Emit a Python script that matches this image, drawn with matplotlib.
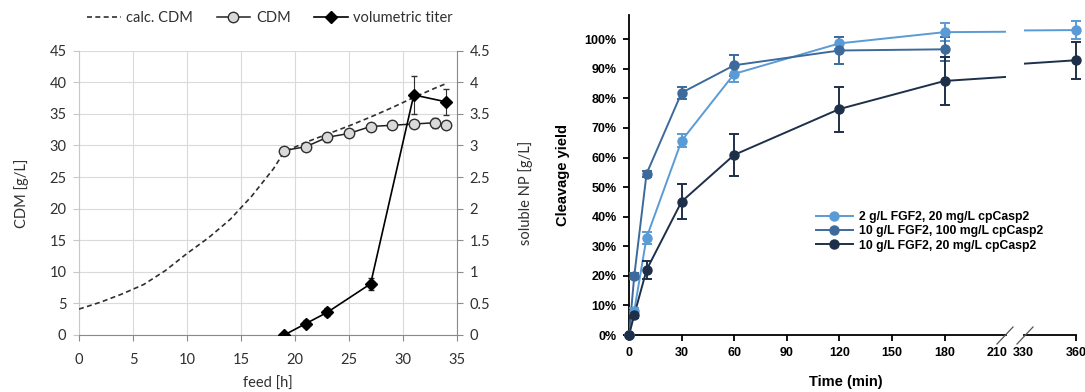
import matplotlib
matplotlib.use('Agg')
import matplotlib.pyplot as plt
import numpy as np
from matplotlib.lines import Line2D
from matplotlib.ticker import FixedLocator, FixedFormatter

# ---------------- left panel data ----------------
calc_t = [0, 2, 4, 6, 8, 10, 12, 14, 16, 18, 19, 21, 23, 25, 27, 29, 31, 33, 34]
calc_cdm = [4.1, 5.2, 6.5, 8.0, 10.2, 12.9, 15.4, 18.3, 22.0, 26.3, 29.0, 30.5,
            31.8, 33.1, 34.5, 36.0, 37.6, 39.1, 39.8]
cdm_t = [19, 21, 23, 25, 27, 29, 31, 33, 34]
cdm = [29.2, 29.8, 31.3, 31.9, 33.0, 33.2, 33.4, 33.6, 33.2]
cdm_err = [0.3, 0.3, 0.7, 0.3, 0.3, 0.3, 0.3, 0.8, 0.4]
titer_t = [19, 21, 23, 27, 31, 34]
titer = [0.0, 0.18, 0.36, 0.81, 3.80, 3.69]
titer_err = [0.02, 0.05, 0.06, 0.10, 0.30, 0.21]
left_yticks = [0, 5, 10, 15, 20, 25, 30, 35, 40, 45]
right_yticks = [0, 0.5, 1, 1.5, 2, 2.5, 3, 3.5, 4, 4.5]
right_ylabels = ['0', '0.5', '1', '1.5', '2', '2.5', '3', '3.5', '4', '4.5']
feed_ticks = [0, 5, 10, 15, 20, 25, 30, 35]

# ---------------- right panel data ----------------
time_min = [0, 3, 10, 30, 60, 120, 180, 360]
yield_a = [0, 8.2, 32.9, 65.7, 88.3, 98.6, 102.4, 103.1]     # 2 g/L FGF2, 20 mg/L
err_a = [0, 1.0, 2.0, 2.2, 2.7, 2.0, 3.0, 3.1]
time_b = [0, 3, 10, 30, 60, 120, 180]
yield_b = [0, 20.0, 54.5, 81.9, 91.2, 96.2, 96.6]             # 10 g/L FGF2, 100 mg/L
err_b = [0, 1.0, 1.0, 2.0, 3.5, 4.5, 4.0]
yield_c = [0, 6.8, 22.0, 45.1, 60.9, 76.4, 85.9, 92.9]       # 10 g/L FGF2, 20 mg/L
err_c = [0, 1.0, 3.0, 6.0, 7.0, 7.6, 8.2, 6.2]
labels = ['2 g/L FGF2, 20 mg/L cpCasp2',
          '10 g/L FGF2, 100 mg/L cpCasp2',
          '10 g/L FGF2, 20 mg/L cpCasp2']
colors = ['#5B9BD5', '#3D6A9B', '#1E3049']
time_ticks_a = [0, 30, 60, 90, 120, 150, 180, 210]
time_ticks_b = [330, 360]
yield_ticks = [0, 10, 20, 30, 40, 50, 60, 70, 80, 90, 100]

W, H = 1085, 392
fig = plt.figure(figsize=(W / 100, H / 100), dpi=100)

# =============== LEFT PANEL ===============
lf = 'Lato'
tc = '#303030'
ax = fig.add_axes([79 / W, 57 / H, 378 / W, 284.3 / H])
ax.set_xlim(0, 35)
ax.set_ylim(0, 45)
ax.set_xticks(feed_ticks)
ax.set_yticks(left_yticks)
ax.grid(True, color='#DADADA', lw=0.8)
ax.set_axisbelow(True)
for s in ['top', 'right']:
    ax.spines[s].set_visible(False)
ax.spines['left'].set_color('#C8C8C8')
ax.spines['bottom'].set_color('#8A8A8A')
ax.tick_params(axis='x', direction='out', length=4, color='#8A8A8A',
               labelsize=10.5, labelcolor=tc, pad=9)
ax.tick_params(axis='y', direction='out', length=4, color='#C8C8C8',
               labelsize=10.5, labelcolor=tc, pad=5)
for lab in ax.get_xticklabels() + ax.get_yticklabels():
    lab.set_family(lf)

ax.plot(calc_t, calc_cdm, ls=(0, (3, 2)), color='#303030', lw=1.2, zorder=3)
ax.errorbar(cdm_t, cdm, yerr=cdm_err, color='#202020', lw=1.1, ecolor='#202020',
            elinewidth=0.8, capsize=2, marker='o', ms=7.5, mfc='#D9D9D9',
            mec='#303030', mew=1.0, zorder=4)

ax2 = ax.twinx()
ax2.set_ylim(0, 4.5)
ax2.yaxis.set_major_locator(FixedLocator(right_yticks))
ax2.yaxis.set_major_formatter(FixedFormatter(right_ylabels))
for s in ['top', 'left', 'bottom']:
    ax2.spines[s].set_visible(False)
ax2.spines['right'].set_color('#8A8A8A')
ax2.tick_params(axis='y', direction='out', length=4, color='#8A8A8A',
                labelsize=10.5, labelcolor=tc, pad=5)
for lab in ax2.get_yticklabels():
    lab.set_family(lf)
ax2.errorbar(titer_t, titer, yerr=titer_err, color='black', lw=1.2, ecolor='#303030',
             elinewidth=0.8, capsize=2, marker='D', ms=6, mfc='black', mec='black',
             zorder=5)

ax.set_xlabel('feed [h]', family=lf, fontsize=10.5, color=tc, labelpad=7)
ax.set_ylabel('CDM [g/L]', family=lf, fontsize=10.5, color=tc, labelpad=15)
ax2.set_ylabel('soluble NP [g/L]', family=lf, fontsize=10.5, color=tc, labelpad=20)

h1 = Line2D([], [], ls=(0, (3, 2)), color='#303030', lw=1.2)
h2 = Line2D([], [], color='#202020', lw=1.1, marker='o', ms=7.5, mfc='#D9D9D9', mec='#303030')
h3 = Line2D([], [], color='black', lw=1.2, marker='D', ms=6, mfc='black')
fig.legend([h1, h2, h3], ['calc. CDM', 'CDM', 'volumetric titer'], ncol=3,
           loc='center', bbox_to_anchor=(270 / W, 1 - 18 / H), frameon=False,
           prop={'family': lf, 'size': 10.5}, handlelength=2.3, handletextpad=0.4,
           columnspacing=1.6, labelcolor=tc)

# =============== RIGHT PANEL (broken x axis) ===============
rf = 'Liberation Sans'
pxmin = 1.753           # pixels per minute
x0 = 629
bx = fig.add_axes([x0 / W, 57 / H, 215 * pxmin / W, 320 / H])
bx.set_xlim(0, 215)
x1 = 1023.5
cx = fig.add_axes([x1 / W, 57 / H, 35 * pxmin / W, 320 / H])
cx.set_xlim(330, 365)
for a in (bx, cx):
    a.set_ylim(0, 108.2)
    for s in ['top', 'right']:
        a.spines[s].set_visible(False)
    a.spines['bottom'].set_linewidth(1.3)
    a.spines['left'].set_linewidth(1.3)
    a.set_facecolor('none')
    a.tick_params(axis='both', direction='out', length=4, width=1.3,
                  labelsize=9, pad=5)
cx.spines['left'].set_visible(False)
cx.spines['bottom'].set_bounds(330, 360)
cx.tick_params(axis='y', left=False, labelleft=False)

bx.xaxis.set_major_locator(FixedLocator(time_ticks_a))
bx.xaxis.set_major_formatter(FixedFormatter([str(t) for t in time_ticks_a]))
cx.xaxis.set_major_locator(FixedLocator(time_ticks_b))
cx.xaxis.set_major_formatter(FixedFormatter([str(t) for t in time_ticks_b]))
bx.yaxis.set_major_locator(FixedLocator(yield_ticks))
bx.yaxis.set_major_formatter(FixedFormatter([f'{v}%' for v in yield_ticks]))
for a in (bx, cx):
    for lab in a.get_xticklabels() + a.get_yticklabels():
        lab.set_family(rf)
        lab.set_fontweight('bold')
bx.xaxis.get_major_ticks()[-1].tick1line.set_visible(False)
cx.xaxis.get_major_ticks()[0].tick1line.set_visible(False)

# break marks
for xd in (1005, 1025):
    fig.add_artist(Line2D([(xd - 8) / W, (xd + 8) / W], [(57 - 9) / H, (57 + 8) / H],
                          color='#555555', lw=0.9, transform=fig.transFigure))

handles = []
series = [(time_min, yield_a, err_a), (time_b, yield_b, err_b), (time_min, yield_c, err_c)]
for (tt, yy, ee), c, lab in zip(series, colors, labels):
    for a, clip in ((bx, False), (cx, True)):
        a.plot(tt, yy, color=c, lw=1.4, zorder=3)
        a.errorbar(tt, yy, yerr=ee, fmt='none', ecolor=c, elinewidth=1.4, capsize=3.6,
                   capthick=1.4, zorder=4, clip_on=clip)
        a.plot(tt, yy, ls='none', marker='o', ms=6.5, color=c, zorder=5, clip_on=clip)
    handles.append(Line2D([], [], color=c, lw=1.4, marker='o', ms=6.5))

fig.legend(handles, labels, loc='upper left', bbox_to_anchor=(810 / W, 1 - 205 / H),
           frameon=False, prop={'family': rf, 'weight': 'bold', 'size': 8.8},
           handlelength=3.0, handletextpad=0.5, labelspacing=0.18, borderpad=0)

bx.set_xlabel('Time (min)', family=rf, fontweight='bold', fontsize=10.5)
bx.xaxis.set_label_coords((846 - 629) / (215 * pxmin), -0.125)
bx.set_ylabel('Cleavage yield', family=rf, fontweight='bold', fontsize=10.5, labelpad=10)

fig.savefig('out.png', dpi=100)
